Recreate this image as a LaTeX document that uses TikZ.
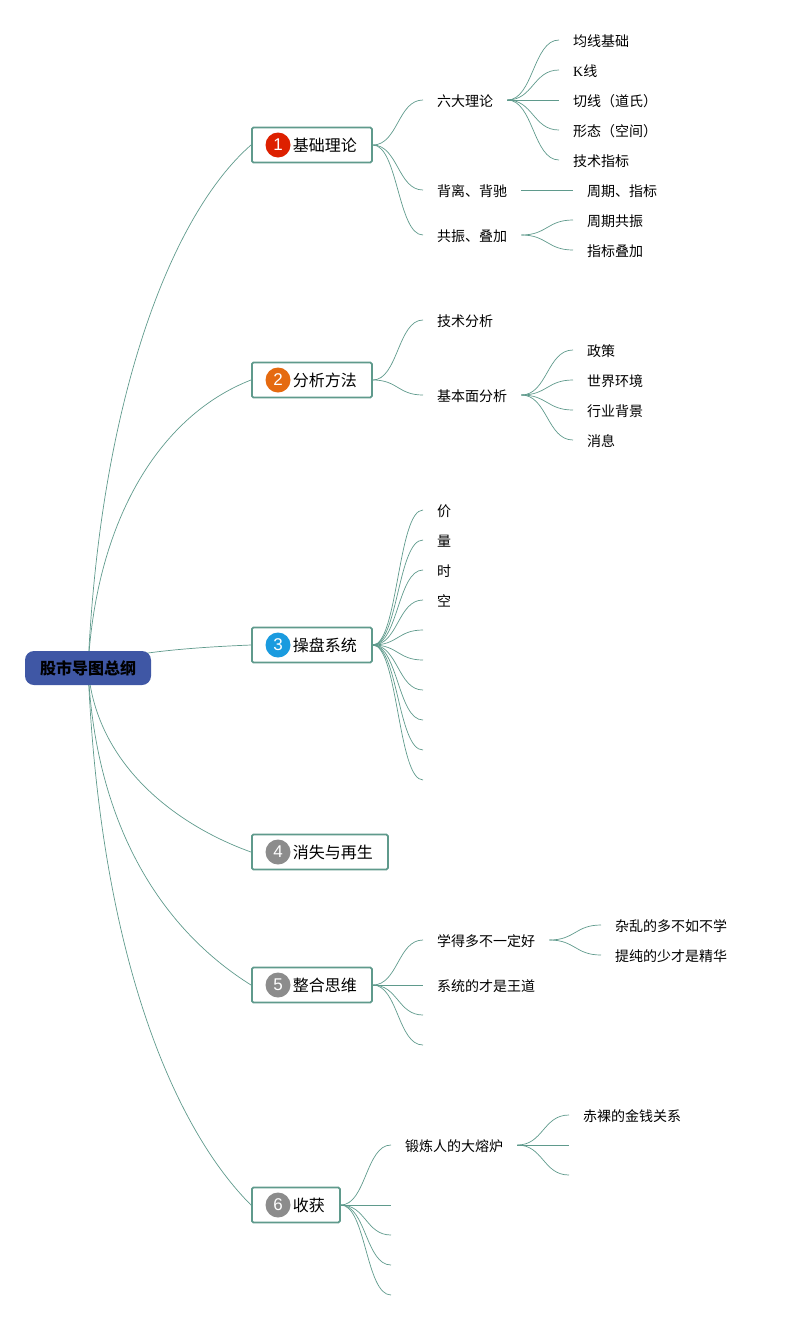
\documentclass[tikz,border=0pt]{standalone}
\usepackage{fontspec}
\setmainfont{Noto Sans CJK SC}
\newfontfamily\latinfont{Liberation Serif}
\newfontfamily\iconfont{Liberation Sans}
\usetikzlibrary{backgrounds,calc}
\definecolor{linkgreen}{HTML}{5F9A8C}
\definecolor{rootblue}{HTML}{3F57A5}
\definecolor{ballred}{HTML}{DD2000}
\definecolor{ballorange}{HTML}{E56A10}
\definecolor{ballblue}{HTML}{1A9BDF}
\definecolor{ballgray}{HTML}{8C8C8C}
\tikzset{
  every node/.style={font=\fontsize{14}{16}\selectfont},
  rootbox/.style={rectangle,rounded corners=9pt,fill=rootblue,text=black,minimum width=126pt,minimum height=34pt,inner sep=0pt,font=\fontsize{16}{18}\selectfont\bfseries},
  topicbox/.style={rectangle,anchor=west,draw=linkgreen,line width=1.8pt,rounded corners=1.5pt,fill=white,minimum height=35pt,inner ysep=0pt,inner xsep=0pt,font=\fontsize{16}{18}\selectfont,text height=14pt,text depth=1pt},
  iconball/.style={circle,minimum size=25pt,inner sep=0pt,text=white,font=\iconfont\fontsize{17}{17}\selectfont},
  leaf/.style={anchor=west,inner ysep=0pt,inner xsep=14pt,text height=13pt,text depth=0.5pt},
  link/.style={draw=linkgreen,line width=0.7pt},
  curve/.style={link,to path={let \p1=(\tikztostart),\p2=(\tikztotarget) in
    .. controls (\x1/2+\x2/2,\y1) and (\x1/2+\x2/2,\y2) .. (\tikztotarget)}},
}
\newcommand{\topictext}[1]{\kern41pt #1\kern15pt}
\begin{document}
\begin{tikzpicture}[x=1pt,y=-1pt]
    \useasboundingbox (0,0) rectangle (787,1320);

    \node[rootbox] (root) at (88,668) {股市导图总纲};

    % main topics
    \node[topicbox] (basic) at (251,145) {\topictext{基础理论}};
    \node[topicbox] (method) at (251,380) {\topictext{分析方法}};
    \node[topicbox] (system) at (251,645) {\topictext{操盘系统}};
    \node[topicbox] (vanish) at (251,852) {\topictext{消失与再生}};
    \node[topicbox] (merge) at (251,985) {\topictext{整合思维}};
    \node[topicbox] (gain) at (251,1205) {\topictext{收获}};

    \node[iconball,fill=ballred] (ballA) at (278,145) {1};
    \node[iconball,fill=ballorange] (ballB) at (278,380) {2};
    \node[iconball,fill=ballblue] (ballC) at (278,645) {3};
    \node[iconball,fill=ballgray] (ballD) at (278,852) {4};
    \node[iconball,fill=ballgray] (ballE) at (278,985) {5};
    \node[iconball,fill=ballgray] (ballF) at (278,1205) {6};

    \begin{pgfonlayer}{background}
      \draw[link] (root.center) .. controls +(12,-268) and +(-80,70) .. (basic.west);
      \draw[link] (root.center) .. controls +(8,-150) and +(-90,35) .. (method.west);
      \draw[link] (root.center) .. controls +(30,-16) and +(-50,2) .. (system.west);
      \draw[link] (root.center) .. controls +(8,100) and +(-70,-25) .. (vanish.west);
      \draw[link] (root.center) .. controls +(8,170) and +(-80,-50) .. (merge.west);
      \draw[link] (root.center) .. controls +(12,292) and +(-75,-75) .. (gain.west);
    \end{pgfonlayer}

    % topic 1
    \node[leaf] (six) at (423,100) {六大理论};
    \node[leaf] (diverge) at (423,190) {背离、背驰};
    \node[leaf] (reson) at (423,235) {共振、叠加};
    \draw[curve] (basic.east) to (six.west);
    \draw[curve] (basic.east) to (diverge.west);
    \draw[curve] (basic.east) to (reson.west);

    \node[leaf] (avg) at (559,40) {均线基础};
    \node[leaf] (kline) at (559,70) {{\latinfont K}线};
    \node[leaf] (tangent) at (559,100) {切线（道氏）};
    \node[leaf] (shape) at (559,130) {形态（空间）};
    \node[leaf] (index) at (559,160) {技术指标};
    \draw[curve] (six.east) to (avg.west);
    \draw[curve] (six.east) to (kline.west);
    \draw[curve] (six.east) to (tangent.west);
    \draw[curve] (six.east) to (shape.west);
    \draw[curve] (six.east) to (index.west);

    \node[leaf] (period) at (573,190) {周期、指标};
    \node[leaf] (periodres) at (573,220) {周期共振};
    \node[leaf] (indexadd) at (573,250) {指标叠加};
    \draw[link] (diverge.east) -- (period.west);
    \draw[curve] (reson.east) to (periodres.west);
    \draw[curve] (reson.east) to (indexadd.west);

    % topic 2
    \node[leaf] (tech) at (423,320) {技术分析};
    \node[leaf] (fund) at (423,395) {基本面分析};
    \draw[curve] (method.east) to (tech.west);
    \draw[curve] (method.east) to (fund.west);

    \node[leaf] (policy) at (573,350) {政策};
    \node[leaf] (world) at (573,380) {世界环境};
    \node[leaf] (trade) at (573,410) {行业背景};
    \node[leaf] (news) at (573,440) {消息};
    \draw[curve] (fund.east) to (policy.west);
    \draw[curve] (fund.east) to (world.west);
    \draw[curve] (fund.east) to (trade.west);
    \draw[curve] (fund.east) to (news.west);

    % topic 3
    \node[leaf] (price) at (423,510) {价};
    \node[leaf] (volume) at (423,540) {量};
    \node[leaf] (timeleaf) at (423,570) {时};
    \node[leaf] (space) at (423,600) {空};
    \coordinate (sysA) at (423,630);
    \coordinate (sysB) at (423,660);
    \coordinate (sysC) at (423,690);
    \coordinate (sysD) at (423,720);
    \coordinate (sysE) at (423,750);
    \coordinate (sysF) at (423,780);
    \draw[curve] (system.east) to (price.west);
    \draw[curve] (system.east) to (volume.west);
    \draw[curve] (system.east) to (timeleaf.west);
    \draw[curve] (system.east) to (space.west);
    \draw[curve] (system.east) to (sysA);
    \draw[curve] (system.east) to (sysB);
    \draw[curve] (system.east) to (sysC);
    \draw[curve] (system.east) to (sysD);
    \draw[curve] (system.east) to (sysE);
    \draw[curve] (system.east) to (sysF);

    % topic 5
    \node[leaf] (learn) at (423,940) {学得多不一定好};
    \node[leaf] (sysking) at (423,985) {系统的才是王道};
    \coordinate (mergeA) at (423,1015);
    \coordinate (mergeB) at (423,1045);
    \draw[curve] (merge.east) to (learn.west);
    \draw[curve] (merge.east) to (sysking.west);
    \draw[curve] (merge.east) to (mergeA);
    \draw[curve] (merge.east) to (mergeB);

    \node[leaf] (messy) at (601,925) {杂乱的多不如不学};
    \node[leaf] (pure) at (601,955) {提纯的少才是精华};
    \draw[curve] (learn.east) to (messy.west);
    \draw[curve] (learn.east) to (pure.west);

    % topic 6
    \node[leaf] (forge) at (391,1145) {锻炼人的大熔炉};
    \coordinate (gainA) at (391,1205);
    \coordinate (gainB) at (391,1235);
    \coordinate (gainC) at (391,1265);
    \coordinate (gainD) at (391,1295);
    \draw[curve] (gain.east) to (forge.west);
    \draw[curve] (gain.east) to (gainA);
    \draw[curve] (gain.east) to (gainB);
    \draw[curve] (gain.east) to (gainC);
    \draw[curve] (gain.east) to (gainD);

    \node[leaf] (money) at (569,1115) {赤裸的金钱关系};
    \coordinate (forgeA) at (569,1145);
    \coordinate (forgeB) at (569,1175);
    \draw[curve] (forge.east) to (money.west);
    \draw[curve] (forge.east) to (forgeA);
    \draw[curve] (forge.east) to (forgeB);

  \end{tikzpicture}
\end{document}
